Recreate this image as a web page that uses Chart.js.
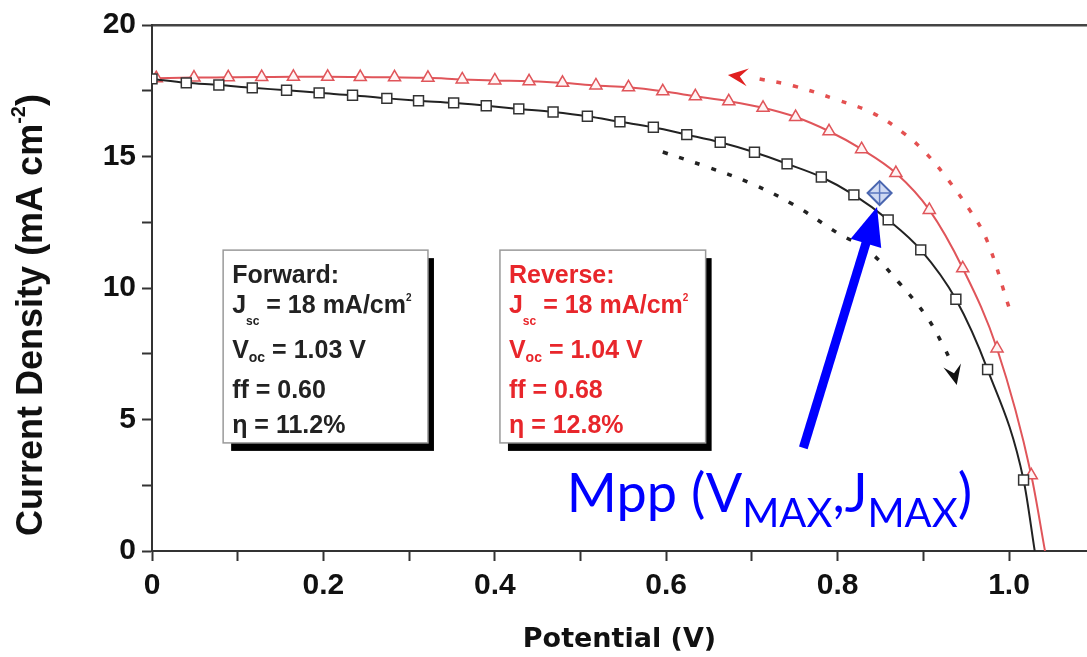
<!DOCTYPE html>
<html>
<head>
<meta charset="utf-8">
<script src="https://cdn.jsdelivr.net/npm/chart.js@4.4.0/dist/chart.umd.min.js"></script>
<style>
  html, body { margin: 0; padding: 0; background: #fff; }
  canvas { display: block; }
</style>
</head>
<body>
<canvas id="jv" width="1087" height="657"></canvas>
<script>
// --- values ---
const forwardV = [0, 0.040, 0.078, 0.117, 0.157, 0.195, 0.234, 0.274, 0.311, 0.352, 0.390, 0.428, 0.468, 0.508,
                  0.546, 0.585, 0.624, 0.663, 0.703, 0.741, 0.781, 0.819, 0.859, 0.897, 0.938, 0.975, 1.017, 1.030];
const forwardJ = [17.95, 17.80, 17.72, 17.61, 17.52, 17.42, 17.33, 17.21, 17.12, 17.04, 16.93, 16.81, 16.69, 16.53,
                  16.32, 16.11, 15.83, 15.54, 15.16, 14.72, 14.22, 13.54, 12.59, 11.45, 9.57, 6.90, 2.70, 0];

const reverseV = [0.005, 0.049, 0.089, 0.128, 0.165, 0.205, 0.243, 0.283, 0.322, 0.362, 0.400, 0.440, 0.479, 0.518,
                  0.556, 0.596, 0.634, 0.673, 0.713, 0.751, 0.790, 0.828, 0.868, 0.907, 0.946, 0.986, 1.026, 1.042];
const reverseJ = [17.98, 18.00, 18.01, 18.02, 18.03, 18.03, 18.02, 18.01, 17.99, 17.93, 17.89, 17.86, 17.80, 17.70,
                  17.63, 17.48, 17.29, 17.10, 16.85, 16.50, 15.96, 15.28, 14.37, 12.97, 10.75, 7.70, 2.88, 0];

// maximum power point
const mppV = [0.849];
const mppJ = [13.61];

// dotted scan-direction guides
const revGuideV = [0.709, 0.749, 0.800, 0.841, 0.877, 0.903, 0.929, 0.954, 0.974, 1.001];
const revGuideJ = [17.95, 17.68, 17.15, 16.65, 15.89, 15.13, 14.11, 12.97, 11.83, 9.16];
const fwdGuideV = [0.596, 0.648, 0.698, 0.749, 0.800, 0.835, 0.872, 0.904, 0.924, 0.933];
const fwdGuideJ = [15.17, 14.60, 13.99, 13.16, 12.09, 11.44, 10.19, 8.90, 7.76, 7.15];

// ticks
const xMajor = [0, 0.2, 0.4, 0.6, 0.8, 1.0];
const xMajorLabels = ['0', '0.2', '0.4', '0.6', '0.8', '1.0'];
const xMinor = [0.1, 0.3, 0.5, 0.7, 0.9];
const yMajor = [0, 5, 10, 15, 20];
const yMajorLabels = ['0', '5', '10', '15', '20'];
const yMinor = [2.5, 7.5, 12.5, 17.5];

// box texts: [text, kind]
const forwardText = [
    [['Forward:', '']],
    [['J', ''], ['sc', 'sub'], [' = 18 mA/cm', ''], ['2', 'sup']],
    [['V', ''], ['oc', 'sub2'], [' = 1.03 V', '']],
    [['ff = 0.60', '']],
    [['\u03B7 = 11.2%', '']]
];
const reverseText = [
    [['Reverse:', '']],
    [['J', ''], ['sc', 'sub'], [' = 18 mA/cm', ''], ['2', 'sup']],
    [['V', ''], ['oc', 'sub2'], [' = 1.04 V', '']],
    [['ff = 0.68', '']],
    [['\u03B7 = 12.8%', '']]
];

// annotation placement (data units)
const notes = {
    fwdBox: { v0: 0.083, v1: 0.322, j0: 11.44, j1: 4.11 },
    revBox: { v0: 0.406, v1: 0.646, j0: 11.44, j1: 4.11 },
    lineOffsets: [33, 63, 108, 148, 183],
    arrowTail: { v: 0.760, j: 3.92 },
    arrowTip: { v: 0.846, j: 13.08 },
    revHeadTip: { v: 0.672, j: 18.10 },
    fwdHeadTip: { v: 0.939, j: 6.31 },
    mppLabel: { v: 0.484, j: 1.48 }
};

const toPoints = (xs, ys) => xs.map((v, i) => ({ x: v, y: ys[i] }));
const lastIdx = arr => arr.length - 1;

Chart.defaults.font.family = '"Liberation Sans", Arial, sans-serif';

function drawHead(ctx, tip, from, len, half, color) {
    const dx = tip.x - from.x, dy = tip.y - from.y;
    const d = Math.hypot(dx, dy);
    const ux = dx / d, uy = dy / d, nx = -uy, ny = ux;
    const bx = tip.x - ux * len, by = tip.y - uy * len;
    ctx.beginPath();
    ctx.moveTo(tip.x, tip.y);
    ctx.lineTo(bx + nx * half, by + ny * half);
    ctx.lineTo(tip.x - ux * len * 0.6, tip.y - uy * len * 0.6);
    ctx.lineTo(bx - nx * half, by - ny * half);
    ctx.closePath();
    ctx.fillStyle = color;
    ctx.fill();
}

function drawBox(ctx, xs, ys, box, lines, color) {
    const l = xs.getPixelForValue(box.v0), r = xs.getPixelForValue(box.v1);
    const t = ys.getPixelForValue(box.j0), b = ys.getPixelForValue(box.j1);
    ctx.fillStyle = '#000';
    ctx.fillRect(l + 8, t + 8, r - l - 2, b - t);
    ctx.fillStyle = '#fff';
    ctx.fillRect(l, t, r - l, b - t);
    ctx.strokeStyle = '#9a9a9a';
    ctx.lineWidth = 1.5;
    ctx.strokeRect(l, t, r - l, b - t);

    ctx.fillStyle = color;
    ctx.textBaseline = 'alphabetic';
    ctx.textAlign = 'left';
    lines.forEach((segs, i) => {
        let x = l + 9;
        const base = t + notes.lineOffsets[i];
        segs.forEach(([txt, kind]) => {
            let size = 25, dy = 0;
            if (kind === 'sub') { size = 12; dy = 12; }
            if (kind === 'sub2') { size = 14; dy = 4; }
            if (kind === 'sup') { size = 10; dy = -12; }
            ctx.font = 'bold ' + size + 'px "Liberation Sans", Arial, sans-serif';
            ctx.fillText(txt, x, base + dy);
            x += ctx.measureText(txt).width;
        });
    });
}

const annotations = {
    id: 'annotations',
    afterDatasetsDraw(chart) {
        const ctx = chart.ctx;
        const xs = chart.scales.x, ys = chart.scales.y;
        const P = p => ({ x: xs.getPixelForValue(p.v), y: ys.getPixelForValue(p.j) });
        ctx.save();

        // guide arrowheads
        drawHead(ctx, P(notes.revHeadTip), P({ v: revGuideV[0], j: revGuideJ[0] }), 20, 9, '#e02020');
        drawHead(ctx, P(notes.fwdHeadTip), P({ v: fwdGuideV[lastIdx(fwdGuideV)], j: fwdGuideJ[lastIdx(fwdGuideJ)] }), 20, 9, '#111');

        // parameter boxes
        drawBox(ctx, xs, ys, notes.fwdBox, forwardText, '#222');
        drawBox(ctx, xs, ys, notes.revBox, reverseText, '#e8262b');

        // blue arrow to Mpp
        const tail = P(notes.arrowTail), tip = P(notes.arrowTip);
        const dx = tip.x - tail.x, dy = tip.y - tail.y, d = Math.hypot(dx, dy);
        const ux = dx / d, uy = dy / d;
        ctx.strokeStyle = '#0000ff';
        ctx.lineWidth = 9;
        ctx.lineCap = 'butt';
        ctx.beginPath();
        ctx.moveTo(tail.x, tail.y);
        ctx.lineTo(tip.x - ux * 30, tip.y - uy * 30);
        ctx.stroke();
        ctx.beginPath();
        ctx.moveTo(tip.x, tip.y);
        ctx.lineTo(tip.x - ux * 38 - uy * 16, tip.y - uy * 38 + ux * 16);
        ctx.lineTo(tip.x - ux * 38 + uy * 16, tip.y - uy * 38 - ux * 16);
        ctx.closePath();
        ctx.fillStyle = '#0000ff';
        ctx.fill();

        // Mpp label
        const lab = P(notes.mppLabel);
        const parts = [['Mpp (V', 0], ['MAX', 1], [',J', 0], ['MAX', 1], [')', 0]];
        let x = lab.x;
        ctx.fillStyle = '#0000ff';
        ctx.textAlign = 'left';
        ctx.textBaseline = 'alphabetic';
        parts.forEach(([txt, sub]) => {
            ctx.font = (sub ? 40 : 54) + 'px Lato, "Open Sans", sans-serif';
            ctx.fillText(txt, x, lab.y + (sub ? 15 : 0));
            x += ctx.measureText(txt).width;
        });

        // y axis title with superscript
        ctx.translate(32, 315);
        ctx.rotate(-Math.PI / 2);
        const mainFont = 'bold 36px "Liberation Sans", Arial, sans-serif';
        const supFont = 'bold 20px "Liberation Sans", Arial, sans-serif';
        ctx.font = mainFont;
        const w1 = ctx.measureText('Current Density (mA cm').width;
        const w3 = ctx.measureText(')').width;
        ctx.font = supFont;
        const w2 = ctx.measureText('-2').width;
        let tx = -(w1 + w2 + w3) / 2;
        ctx.fillStyle = '#111';
        ctx.textBaseline = 'middle';
        ctx.font = mainFont;
        ctx.fillText('Current Density (mA cm', tx, 0);
        tx += w1;
        ctx.font = supFont;
        ctx.fillText('-2', tx, -13);
        tx += w2;
        ctx.font = mainFont;
        ctx.fillText(')', tx, 0);

        ctx.restore();
    }
};

new Chart(document.getElementById('jv'), {
    type: 'line',
    data: {
        datasets: [
            {
                label: 'Mpp',
                data: toPoints(mppV, mppJ),
                showLine: false,
                pointStyle: 'rectRot',
                pointRadius: 12,
                pointBackgroundColor: 'rgba(120, 150, 220, 0.35)',
                pointBorderColor: '#4a66b0',
                pointBorderWidth: 2
            },
            {
                label: 'Mpp cross',
                data: toPoints(mppV, mppJ),
                showLine: false,
                pointStyle: 'cross',
                pointRadius: 11,
                pointBorderColor: '#4a66b0',
                pointBorderWidth: 1.5
            },
            {
                label: 'Forward',
                data: toPoints(forwardV, forwardJ),
                borderColor: '#222',
                borderWidth: 2,
                cubicInterpolationMode: 'monotone',
                pointStyle: 'rect',
                pointRadius: c => c.dataIndex === lastIdx(forwardV) ? 0 : 7,
                pointBackgroundColor: '#fff',
                pointBorderColor: '#333',
                pointBorderWidth: 1.5
            },
            {
                label: 'Reverse',
                data: toPoints(reverseV, reverseJ),
                borderColor: '#e0555a',
                borderWidth: 2,
                cubicInterpolationMode: 'monotone',
                pointStyle: 'triangle',
                pointRadius: c => c.dataIndex === lastIdx(reverseV) ? 0 : 7,
                pointBackgroundColor: '#fff4f4',
                pointBorderColor: '#e0555a',
                pointBorderWidth: 1.5
            },
            {
                label: 'reverse scan guide',
                data: toPoints(revGuideV, revGuideJ),
                borderColor: '#e45050',
                borderWidth: 3.5,
                borderDash: [5, 12],
                tension: 0.4,
                pointRadius: 0
            },
            {
                label: 'forward scan guide',
                data: toPoints(fwdGuideV, fwdGuideJ),
                borderColor: '#222',
                borderWidth: 3.5,
                borderDash: [5, 12],
                tension: 0.4,
                pointRadius: 0
            }
        ]
    },
    options: {
        responsive: false,
        animation: false,
        devicePixelRatio: 1,
        layout: { autoPadding: false, padding: { top: 25, left: 0, right: 0, bottom: 0 } },
        plugins: { legend: { display: false }, tooltip: { enabled: false } },
        scales: {
            x: {
                type: 'linear',
                min: 0,
                max: 1.091,
                afterBuildTicks: s => { s.ticks = xMajor.concat(xMinor).sort((a, b) => a - b).map(v => ({ value: v })); },
                afterFit: s => { s.height = 106; },
                ticks: {
                    autoSkip: false,
                    maxRotation: 0,
                    padding: 7,
                    color: '#111',
                    font: { size: 30, weight: 'bold' },
                    callback: v => {
                        const i = xMajor.findIndex(m => Math.abs(m - v) < 1e-6);
                        return i >= 0 ? xMajorLabels[i] : '';
                    }
                },
                grid: { drawOnChartArea: false, tickLength: 10, tickWidth: 2, tickColor: '#333' },
                border: { color: '#333', width: 2 },
                title: {
                    display: true,
                    text: 'Potential (V)',
                    color: '#111',
                    font: { family: '"DejaVu Sans", sans-serif', size: 27, weight: 'bold' },
                    padding: { top: 0, bottom: 1 }
                }
            },
            x2: {
                type: 'linear',
                position: 'top',
                min: 0,
                max: 1.091,
                afterFit: s => { s.height = 0; },
                ticks: { display: false },
                grid: { drawOnChartArea: false, drawTicks: false },
                border: { color: '#444', width: 2.5 }
            },
            y: {
                min: 0,
                max: 20,
                afterBuildTicks: s => { s.ticks = yMajor.concat(yMinor).sort((a, b) => a - b).map(v => ({ value: v })); },
                afterFit: s => { s.width = 152; },
                ticks: {
                    padding: 6,
                    color: '#111',
                    font: { size: 30, weight: 'bold' },
                    callback: v => {
                        const i = yMajor.indexOf(v);
                        return i >= 0 ? yMajorLabels[i] : '';
                    }
                },
                grid: { drawOnChartArea: false, tickLength: 10, tickWidth: 2, tickColor: '#333' },
                border: { color: '#333', width: 2 }
            }
        }
    },
    plugins: [annotations]
});
</script>
</body>
</html>
